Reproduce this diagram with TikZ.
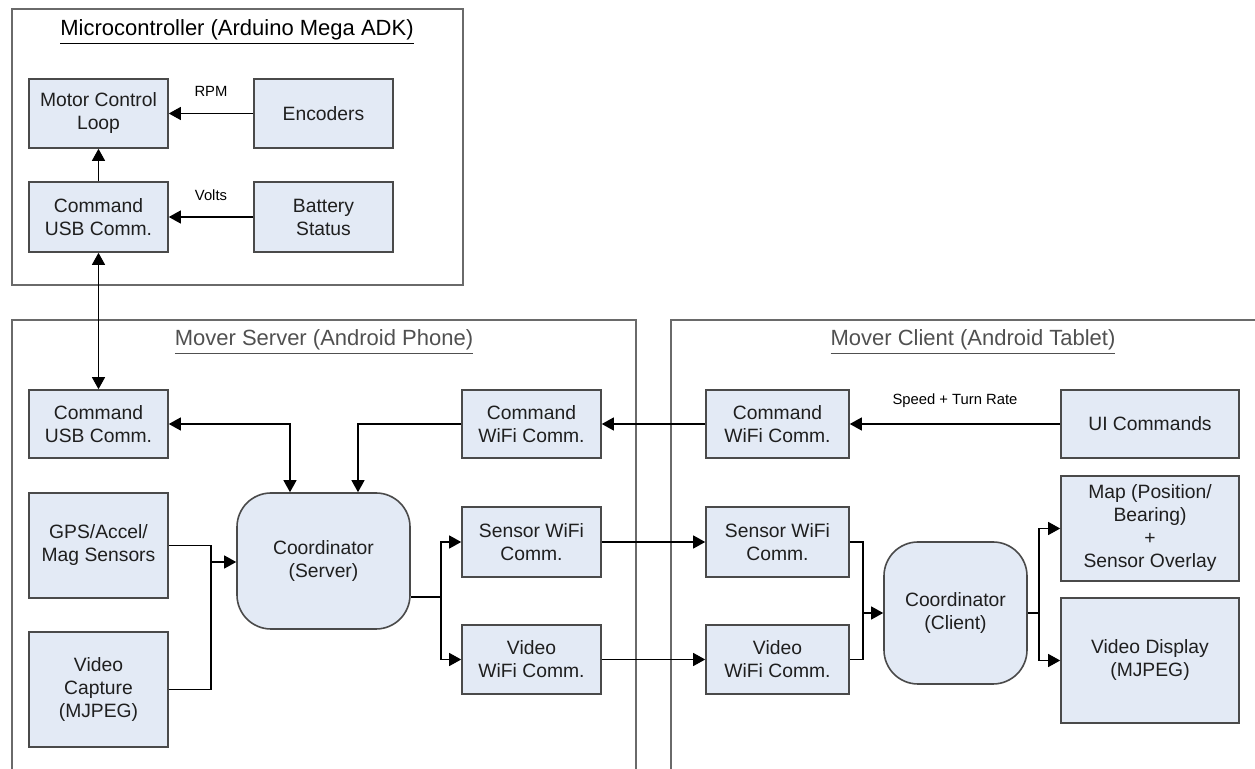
\documentclass[tikz,border=0pt]{standalone}
\usepackage{fontspec}
\setmainfont{Liberation Sans}
\usetikzlibrary{arrows.meta}
\definecolor{boxfill}{HTML}{E3EAF5}
\definecolor{boxline}{HTML}{4A4A4A}
\definecolor{frameline}{HTML}{6A6A6A}
\definecolor{ttlgray}{HTML}{505050}
\begin{document}
\begin{tikzpicture}[x=0.5pt,y=-0.5pt,
  blk/.style={draw=boxline, fill=boxfill, line width=0.8pt, align=center, inner sep=0pt,
    font=\fontsize{9.65}{11.5}\selectfont, text=black!88},
  coordbox/.style={blk, rounded corners=17pt},
  frame/.style={draw=frameline, line width=0.8pt},
  arr/.style={-{Triangle[length=6pt,width=6.5pt]}, line width=0.6pt},
  darr/.style={{Triangle[length=6pt,width=6.5pt]}-{Triangle[length=6pt,width=6.5pt]}, line width=0.6pt},
  ln/.style={line width=0.6pt},
  lbl/.style={font=\fontsize{7.4}{9}\selectfont, inner sep=0pt},
  ttl/.style={font=\fontsize{11}{13}\selectfont, inner sep=0pt},
]
\useasboundingbox (0,0) rectangle (1255,769);

% frames
\draw[frame] (12,9) rectangle (463,285);
\draw[frame] (12,769) -- (12,320) -- (636,320) -- (636,769);
\draw[frame] (671,769) -- (671,320) -- (1255,320);

% titles
\node[ttl] (tmc) at (237,32) {\underline{Microcontroller (Arduino Mega ADK)}};
\node[ttl, text=ttlgray] (tsv) at (324,342) {\underline{Mover Server (Android Phone)}};
\node[ttl, text=ttlgray] (tcl) at (973,342) {\underline{Mover Client (Android Tablet)}};

% microcontroller
\node[blk, minimum width=69.5pt, minimum height=34.5pt] (mcl) at (98.5,113.5) {Motor Control\\Loop};
\node[blk, minimum width=69.5pt, minimum height=34.5pt] (enc) at (323.5,113.5) {Encoders};
\node[blk, minimum width=69.5pt, minimum height=35pt] (mcu) at (98.5,217) {Command\\USB Comm.};
\node[blk, minimum width=69.5pt, minimum height=35pt] (bat) at (323.5,217) {Battery\\Status};

% server
\node[blk, minimum width=69.5pt, minimum height=34pt] (susb) at (98.5,424) {Command\\USB Comm.};
\node[blk, minimum width=69.5pt, minimum height=34pt] (swc) at (531.5,424) {Command\\WiFi Comm.};
\node[blk, minimum width=69.5pt, minimum height=52.5pt] (gps) at (98.5,545.5) {GPS/Accel/\\Mag Sensors};
\node[blk, minimum width=69.5pt, minimum height=57.5pt] (vcap) at (98.5,689.5) {Video\\Capture\\(MJPEG)};
\node[coordbox, minimum width=86.5pt, minimum height=68pt] (cs) at (323.5,561) {Coordinator\\(Server)};
\node[blk, minimum width=69.5pt, minimum height=35pt] (ssw) at (531.5,542) {Sensor WiFi\\Comm.};
\node[blk, minimum width=69.5pt, minimum height=34.5pt] (svw) at (531.5,659.5) {Video\\WiFi Comm.};

% client
\node[blk, minimum width=71.5pt, minimum height=34pt] (ccw) at (777.5,424) {Command\\WiFi Comm.};
\node[blk, minimum width=89pt, minimum height=34pt] (ui) at (1150,424) {UI Commands};
\node[blk, minimum width=71.5pt, minimum height=35pt] (csw) at (777.5,542) {Sensor WiFi\\Comm.};
\node[blk, minimum width=71.5pt, minimum height=34.5pt] (cvw) at (777.5,659.5) {Video\\WiFi Comm.};
\node[coordbox, minimum width=71.5pt, minimum height=71pt] (cc) at (955.5,613) {Coordinator\\(Client)};
\node[blk, minimum width=89pt, minimum height=52.5pt] (map) at (1150,528.5) {Map (Position/\\Bearing)\\+\\Sensor Overlay};
\node[blk, minimum width=89pt, minimum height=62.5pt] (vd) at (1150,660.5) {Video Display\\(MJPEG)};

% microcontroller connectors
\draw[arr] (enc) -- node[lbl, above=8pt] (rpm) {RPM} (mcl);
\draw[arr] (bat) -- node[lbl, above=8pt] (volts) {Volts} (mcu);
\draw[arr] (mcu) -- (mcl);
\draw[darr] (mcu) -- (susb);

% server connectors
\draw[darr] (susb.east) -- (290,424) -- (cs.north -| 290,0);
\coordinate (csn2) at (358,493);
\draw[arr] (swc.west) -- (358,424) -- (cs.north -| csn2);
\coordinate (jl) at (211,562);
\draw[ln] (gps.east) -- (gps.east -| jl) -- (vcap.east -| jl) -- (vcap.east);
\draw[arr] (jl) -- (cs.west |- jl);
\coordinate (co) at (cs.east |- 0,597);
\coordinate (jr) at (441,597);
\draw[ln] (co) -- (jr);
\draw[arr] (jr) -- (jr |- ssw.west) -- (ssw.west);
\draw[arr] (jr) -- (jr |- svw.west) -- (svw.west);

% cross connectors
\draw[arr] (ccw) -- (swc);
\draw[arr] (ui) -- node[lbl, above=8pt] (spd) {Speed + Turn Rate} (ccw);
\draw[arr] (ssw) -- (csw);
\draw[arr] (svw) -- (cvw);

% client connectors
\coordinate (jc) at (863,613);
\draw[ln] (csw.east) -- (csw.east -| jc) -- (cvw.east -| jc) -- (cvw.east);
\draw[arr] (jc) -- (cc.west |- jc);
\coordinate (jd) at (1039,613);
\draw[ln] (cc.east) -- (jd);
\draw[arr] (jd) -- (jd |- map.west) -- (map.west);
\draw[arr] (jd) -- (jd |- vd.west) -- (vd.west);
\end{tikzpicture}
\end{document}
